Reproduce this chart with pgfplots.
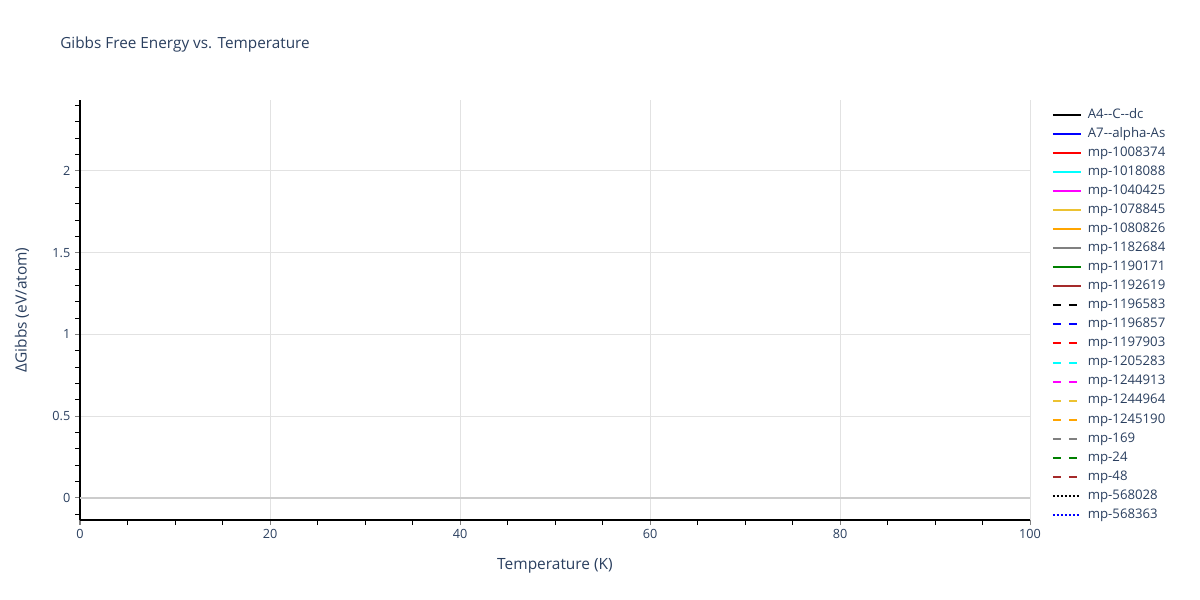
\documentclass[border=0pt]{standalone}
\usepackage{pgfplots}
\pgfplotsset{compat=1.18}
\usepackage{fontspec}
\setmainfont{Open Sans}
\definecolor{plotlytext}{HTML}{2A3F5F}
\definecolor{gridgray}{HTML}{E2E2E2}
\definecolor{zerogray}{HTML}{CCCCCC}
\definecolor{goldline}{RGB}{236,194,50}
\definecolor{orangeline}{HTML}{FFA500}
\definecolor{greenline}{HTML}{008000}
\definecolor{brownline}{HTML}{A52A2A}
\definecolor{cyanline}{RGB}{0,255,255}
\definecolor{magentaline}{RGB}{255,0,255}
\definecolor{blueline}{RGB}{0,0,255}
\definecolor{redline}{RGB}{255,0,0}
\definecolor{grayline}{RGB}{128,128,128}
\begin{document}
\begin{tikzpicture}[x=1pt,y=1pt]
% page frame: 1200x600 px at 0.75pt per px
\path[use as bounding box] (0,0) rectangle (900,450);
\node[anchor=west, inner sep=0pt, font=\fontsize{11.5}{13}\selectfont, text=plotlytext] at (45,416.25) {Gibbs Free Energy vs. Temperature};
\begin{axis}[
    at={(60pt,60pt)}, anchor=south west,
    scale only axis,
    width=712.5pt, height=315pt,
    xmin=0, xmax=100,
    ymin=-0.1346, ymax=2.434,
    xtick={0,20,40,60,80,100},
    minor xtick={5,10,15,25,30,35,45,50,55,65,70,75,85,90,95},
    ytick={0,0.5,1,1.5,2},
    yticklabels={0,0.5,1,1.5,2},
    minor ytick={-0.1,0.1,0.2,0.3,0.4,0.6,0.7,0.8,0.9,1.1,1.2,1.3,1.4,1.6,1.7,1.8,1.9,2.1,2.2,2.3,2.4},
    axis x line*=bottom, axis y line*=left,
    axis line style={-, black, line width=0.75pt},
    tick align=outside,
    major tick length=3.75pt, minor tick length=3.75pt,
    major tick style={gray, line width=0.75pt},
    minor tick style={black, line width=0.75pt},
    xmajorgrids, ymajorgrids,
    major grid style={gridgray, line width=0.75pt},
    ticklabel style={font=\fontsize{9.5}{10}\selectfont, text=plotlytext},
    /pgf/number format/assume math mode=true,
    xlabel={Temperature (K)},
    ylabel={ΔGibbs (eV/atom)},
    label style={font=\fontsize{11.6}{13}\selectfont, text=plotlytext},
    xlabel style={at={(axis description cs:0.5,0)}, anchor=center, yshift=-34.5pt},
    ylabel style={at={(axis description cs:0,0.5)}, anchor=center, yshift=43.5pt},
    clip=false,
    legend style={
        at={(1.0185,0.986)}, anchor=north west,
        draw=none, fill=none,
        font=\fontsize{9.9}{11}\selectfont, text=plotlytext,
        row sep=5.29pt,
        nodes={inner sep=0pt, text height=7pt, text depth=2pt},
    },
    legend cell align=left,
    legend image code/.code={\draw[#1] (0pt,0pt) -- (21pt,0pt); \path (25.5pt,0pt);},
]
\draw[zerogray, line width=1.5pt] (axis cs:0,0) -- (axis cs:100,0);
\addlegendimage{black, line width=1.5pt}
\addlegendentry{A4-{}-C-{}-dc}
\addlegendimage{blueline, line width=1.5pt}
\addlegendentry{A7-{}-alpha-As}
\addlegendimage{redline, line width=1.5pt}
\addlegendentry{mp-1008374}
\addlegendimage{cyanline, line width=1.5pt}
\addlegendentry{mp-1018088}
\addlegendimage{magentaline, line width=1.5pt}
\addlegendentry{mp-1040425}
\addlegendimage{goldline, line width=1.5pt}
\addlegendentry{mp-1078845}
\addlegendimage{orangeline, line width=1.5pt}
\addlegendentry{mp-1080826}
\addlegendimage{grayline, line width=1.5pt}
\addlegendentry{mp-1182684}
\addlegendimage{greenline, line width=1.5pt}
\addlegendentry{mp-1190171}
\addlegendimage{brownline, line width=1.5pt}
\addlegendentry{mp-1192619}
\addlegendimage{black, line width=1.5pt, dash pattern=on 6pt off 6pt}
\addlegendentry{mp-1196583}
\addlegendimage{blueline, line width=1.5pt, dash pattern=on 6pt off 6pt}
\addlegendentry{mp-1196857}
\addlegendimage{redline, line width=1.5pt, dash pattern=on 6pt off 6pt}
\addlegendentry{mp-1197903}
\addlegendimage{cyanline, line width=1.5pt, dash pattern=on 6pt off 6pt}
\addlegendentry{mp-1205283}
\addlegendimage{magentaline, line width=1.5pt, dash pattern=on 6pt off 6pt}
\addlegendentry{mp-1244913}
\addlegendimage{goldline, line width=1.5pt, dash pattern=on 6pt off 6pt}
\addlegendentry{mp-1244964}
\addlegendimage{orangeline, line width=1.5pt, dash pattern=on 6pt off 6pt}
\addlegendentry{mp-1245190}
\addlegendimage{grayline, line width=1.5pt, dash pattern=on 6pt off 6pt}
\addlegendentry{mp-169}
\addlegendimage{greenline, line width=1.5pt, dash pattern=on 6pt off 6pt}
\addlegendentry{mp-24}
\addlegendimage{brownline, line width=1.5pt, dash pattern=on 6pt off 6pt}
\addlegendentry{mp-48}
\addlegendimage{black, line width=1.5pt, dash pattern=on 1.5pt off 1.5pt}
\addlegendentry{mp-568028}
\addlegendimage{blueline, line width=1.5pt, dash pattern=on 1.5pt off 1.5pt}
\addlegendentry{mp-568363}
\end{axis}
\end{tikzpicture}
\end{document}
